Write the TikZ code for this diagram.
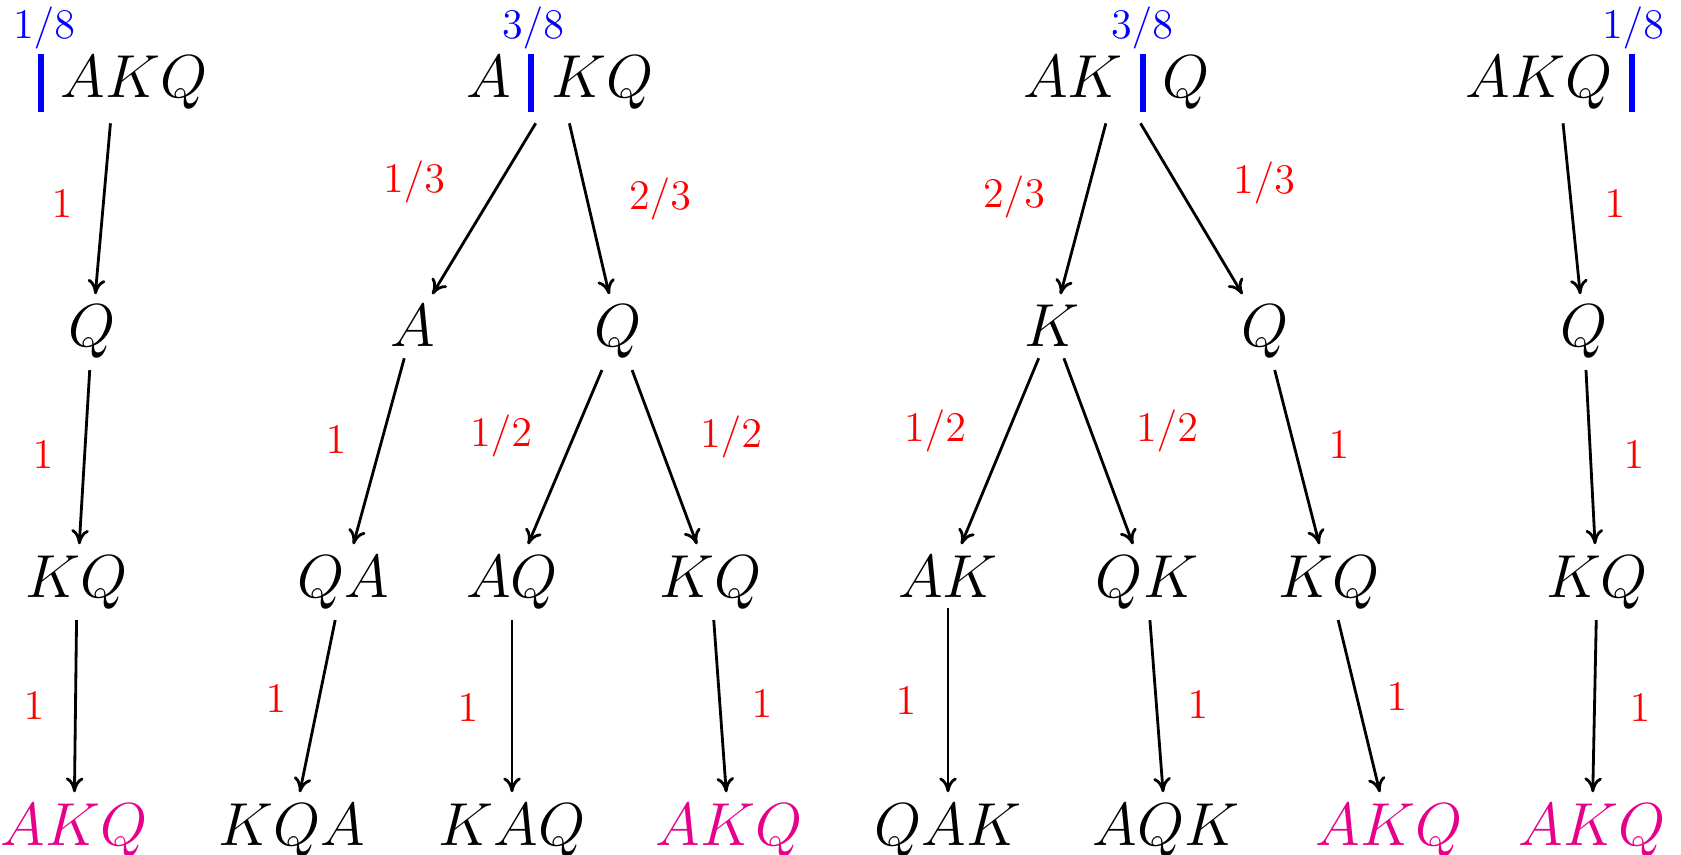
\documentclass[tikz,border=0pt]{standalone}
\usepackage{amsmath}
\usepackage{xcolor}
\usepackage{tikz}
\usetikzlibrary{arrows.meta}

\definecolor{hitpink}{RGB}{230,0,138}
\newcommand{\cutbar}{\mkern5mu\textcolor{blue}{\rule[-4pt]{1.7pt}{16.5pt}}\mkern5mu}

\begin{document}
\begin{tikzpicture}[
    deck/.style={anchor=base, inner sep=3pt, font=\fontsize{16}{19}\selectfont},
    hit/.style={deck, text=hitpink},
    prob/.style={anchor=base, inner sep=1pt, text=red, font=\fontsize{11.5}{14}\selectfont},
    weight/.style={prob, text=blue},
    move/.style={-{To[length=4.2pt,width=5pt]}, line width=0.8pt}
]
    \useasboundingbox (0,0) rectangle (16.81,8.54);

    % Tree 1: cut before A
    \node[deck] (top1) at (1.14,7.56) {$\cutbar AKQ$};
    \node[weight] (w1) at (0.44,8.15) {$1/8$};
    \node[deck] (q1) at (0.92,5.07) {$Q$};
    \node[deck] (kq1) at (0.77,2.57) {$KQ$};
    \node[hit] (akq1) at (0.74,0.09) {$AKQ$};
    \draw[move] (top1) -- (q1);
    \draw[move] (q1) -- (kq1);
    \draw[move] (kq1) -- (akq1);
    \node[prob] (p1a) at (0.62,6.36) {$1$};
    \node[prob] (p1b) at (0.43,3.86) {$1$};
    \node[prob] (p1c) at (0.34,1.35) {$1$};

    % Tree 2: cut after A
    \node[deck] (top2) at (5.60,7.56) {$A\cutbar KQ$};
    \node[weight] (w2) at (5.33,8.15) {$3/8$};
    \node[deck] (a2) at (4.13,5.07) {$A$};
    \node[deck] (q2) at (6.18,5.07) {$Q$};
    \node[deck] (qa2) at (3.43,2.57) {$QA$};
    \node[deck] (aq2) at (5.12,2.57) {$AQ$};
    \node[deck] (kq2) at (7.11,2.57) {$KQ$};
    \node[deck] (kqa2) at (2.92,0.09) {$KQA$};
    \node[deck] (kaq2) at (5.12,0.09) {$KAQ$};
    \node[hit] (akq2) at (7.29,0.09) {$AKQ$};
    \draw[move] (top2) -- (a2);
    \draw[move] (top2) -- (q2);
    \draw[move] (a2) -- (qa2);
    \draw[move] (q2) -- (aq2);
    \draw[move] (q2) -- (kq2);
    \draw[move] (qa2) -- (kqa2);
    \draw[move] (aq2) -- (kaq2);
    \draw[move] (kq2) -- (akq2);
    \node[prob] (p2a) at (4.14,6.61) {$1/3$};
    \node[prob] (p2b) at (6.60,6.44) {$2/3$};
    \node[prob] (p2c) at (3.36,4.01) {$1$};
    \node[prob] (p2d) at (5.01,4.08) {$1/2$};
    \node[prob] (p2e) at (7.31,4.07) {$1/2$};
    \node[prob] (p2f) at (2.76,1.42) {$1$};
    \node[prob] (p2g) at (4.68,1.33) {$1$};
    \node[prob] (p2h) at (7.62,1.37) {$1$};

    % Tree 3: cut after K
    \node[deck] (top3) at (11.165,7.56) {$AK\cutbar Q$};
    \node[weight] (w3) at (11.42,8.15) {$3/8$};
    \node[deck] (k3) at (10.52,5.07) {$K$};
    \node[deck] (q3) at (12.65,5.07) {$Q$};
    \node[deck] (ak3) at (9.48,2.57) {$AK$};
    \node[deck] (qk3) at (11.47,2.57) {$QK$};
    \node[deck] (kq3) at (13.29,2.57) {$KQ$};
    \node[deck] (qak3) at (9.48,0.09) {$QAK$};
    \node[deck] (aqk3) at (11.66,0.09) {$AQK$};
    \node[hit] (akq3) at (13.89,0.09) {$AKQ$};
    \draw[move] (top3) -- (k3);
    \draw[move] (top3) -- (q3);
    \draw[move] (k3) -- (ak3);
    \draw[move] (k3) -- (qk3);
    \draw[move] (q3) -- (kq3);
    \draw[move] (ak3) -- (qak3);
    \draw[move] (qk3) -- (aqk3);
    \draw[move] (kq3) -- (akq3);
    \node[prob] (p3a) at (10.14,6.46) {$2/3$};
    \node[prob] (p3b) at (12.64,6.60) {$1/3$};
    \node[prob] (p3c) at (9.35,4.13) {$1/2$};
    \node[prob] (p3d) at (11.67,4.13) {$1/2$};
    \node[prob] (p3e) at (13.39,3.96) {$1$};
    \node[prob] (p3f) at (9.06,1.40) {$1$};
    \node[prob] (p3g) at (11.98,1.36) {$1$};
    \node[prob] (p3h) at (13.97,1.44) {$1$};

    % Tree 4: cut after Q
    \node[deck] (top4) at (15.59,7.56) {$AKQ\cutbar$};
    \node[weight] (w4) at (16.33,8.15) {$1/8$};
    \node[deck] (q4) at (15.84,5.07) {$Q$};
    \node[deck] (kq4) at (15.97,2.57) {$KQ$};
    \node[hit] (akq4) at (15.92,0.09) {$AKQ$};
    \draw[move] (top4) -- (q4);
    \draw[move] (q4) -- (kq4);
    \draw[move] (kq4) -- (akq4);
    \node[prob] (p4a) at (16.15,6.36) {$1$};
    \node[prob] (p4b) at (16.34,3.86) {$1$};
    \node[prob] (p4c) at (16.40,1.33) {$1$};

\end{tikzpicture}
\end{document}
